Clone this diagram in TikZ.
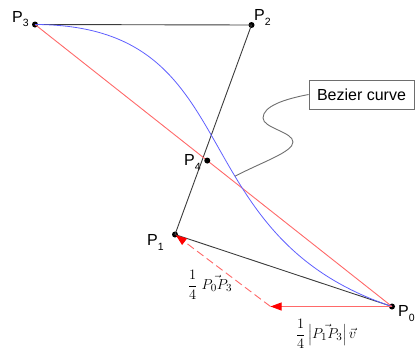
\documentclass[tikz,border=0pt]{standalone}
\usepackage{fontspec}
\setmainfont{Liberation Sans}
\usetikzlibrary{arrows.meta}
\definecolor{lred}{RGB}{255,105,105}
\definecolor{lblue}{RGB}{95,95,255}
\definecolor{dgray}{RGB}{60,60,60}
\definecolor{cgray}{RGB}{110,110,110}
\newcommand{\plabel}[2]{\fontsize{16}{16}\selectfont #1\raisebox{-5pt}{\fontsize{10.5}{10.5}\selectfont #2}}
\begin{document}
\begin{tikzpicture}[x=1pt,y=-1pt,
  dot/.style={circle,fill=black,inner sep=0pt,minimum size=6pt},
  plab/.style={anchor=base west,inner sep=0pt},
  blk/.style={draw=dgray,line width=0.9pt},
  redline/.style={draw=lred,line width=0.9pt},
  mlab/.style={inner sep=0pt,scale=1.2,transform shape},
  tip/.style={-{Triangle[length=11pt,width=8pt,fill=red,color=red]}},
  callbox/.style={draw=cgray,line width=0.9pt,minimum width=105pt,minimum height=29pt,inner sep=0pt,font=\fontsize{16}{16}\selectfont}
]
\useasboundingbox (0,0) rectangle (420,356);
% control points
\node[dot] (P0) at (392,306.5) {};
\node[dot] (P1) at (175,234.5) {};
\node[dot] (P2) at (251.5,25) {};
\node[dot] (P3) at (35,24.5) {};
\coordinate (Q) at (270.5,306.5);
% lines
\draw[blk] (P3.center) -- (P2.center) -- (P1.center) -- (P0.center);
\draw[redline] (P3.center) -- (P0.center);
\draw[lblue,line width=0.8pt] (P0.center) .. controls (P1.center) and (P2.center) .. (P3.center);
\path (P0.center) .. controls (P1.center) and (P2.center) .. (P3.center) coordinate[pos=0.4] (cend);
\path (P3.center) -- (P0.center) coordinate[pos=0.4825] (P4pos);
\node[dot] (P4) at (P4pos) {};
% red vectors
\draw[redline,tip] (P0.center) -- (Q);
\draw[redline,dashed,dash pattern=on 8pt off 4pt,tip,shorten >=1pt] (Q) -- (P1.center);
% labels
\node[plab] (L3) at (12,22) {\plabel{P}{3}};
\node[plab] (L2) at (254,20) {\plabel{P}{2}};
\node[plab] (L4) at (184,165) {\plabel{P}{4}};
\node[plab] (L1) at (147,245) {\plabel{P}{1}};
\node[plab] (L0) at (398,316) {\plabel{P}{0}};
\node[mlab] (m1) at (210,285) {\fontsize{13}{15}\selectfont$\displaystyle\frac{1}{4}\;\vec{P_0P_3}$};
\node[mlab] (m2) at (326,334) {\fontsize{13}{15}\selectfont$\displaystyle\frac{1}{4}\left|\vec{P_1P_3}\right|\vec{v}$};
% callout
\node[callbox] (box) at (361.5,94.5) {Bezier curve};
\draw[cgray,line width=0.9pt] (box.west) .. controls (285,99) and (263,106) .. (263,118)
  .. controls (263,128) and (293,132) .. (293,142)
  .. controls (293,152) and (262,162) .. (cend);
\end{tikzpicture}
\end{document}
